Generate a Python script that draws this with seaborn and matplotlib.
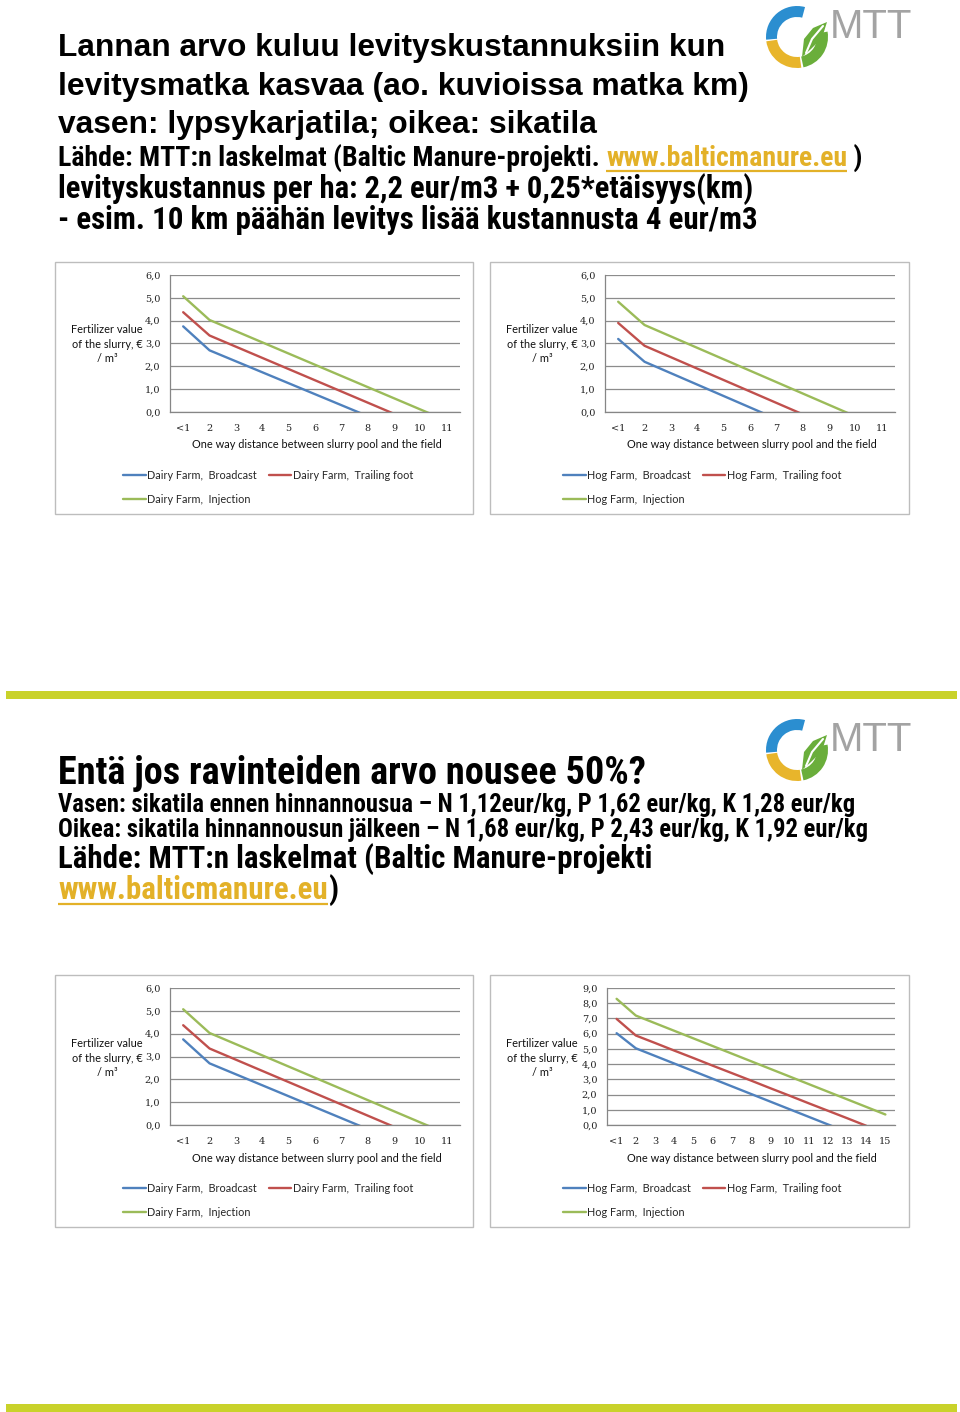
import matplotlib
matplotlib.use("Agg")
import matplotlib.pyplot as plt
from matplotlib import font_manager
from matplotlib.patches import Rectangle, Wedge, Polygon
import pandas as pd
import seaborn as sns

W, H = 960, 1412

# chart data (value of slurry, EUR/m3 by km)
dairy_km = ["<1", "2", "3", "4", "5", "6", "7", "8", "9", "10", "11"]
dairy_broadcast = [3.75, 2.70, 2.22, 1.74, 1.26, 0.78, 0.30, -0.18]
dairy_trailing = [4.37, 3.35, 2.86, 2.37, 1.88, 1.39, 0.90, 0.41, -0.08]
dairy_injection = [5.07, 4.03, 3.54, 3.05, 2.56, 2.07, 1.58, 1.09, 0.60, 0.11, -0.38]

hog_km = ["<1", "2", "3", "4", "5", "6", "7", "8", "9", "10", "11"]
hog_broadcast = [3.20, 2.20, 1.70, 1.20, 0.70, 0.20, -0.30]
hog_trailing = [3.90, 2.90, 2.40, 1.90, 1.40, 0.90, 0.40, -0.10]
hog_injection = [4.83, 3.81, 3.31, 2.81, 2.31, 1.81, 1.31, 0.81, 0.31, -0.19]

hog_high_km = ["<1", "2", "3", "4", "5", "6", "7", "8", "9", "10", "11", "12", "13", "14", "15"]
hog_high_broadcast = [6.03, 5.04, 4.54, 4.04, 3.54, 3.04, 2.54, 2.04, 1.54, 1.04, 0.54, 0.04, -0.46]
hog_high_trailing = [6.97, 5.88, 5.39, 4.89, 4.40, 3.90, 3.41, 2.92, 2.42, 1.93, 1.43, 0.94, 0.45, -0.05]
hog_high_injection = [8.29, 7.19, 6.69, 6.19, 5.69, 5.19, 4.69, 4.19, 3.69, 3.19, 2.69, 2.19, 1.69, 1.19, 0.69]

dairy_names = ["Dairy Farm,  Broadcast", "Dairy Farm,  Trailing foot", "Dairy Farm,  Injection"]
hog_names = ["Hog Farm,  Broadcast", "Hog Farm,  Trailing foot", "Hog Farm,  Injection"]

COLORS = ["#4F81BD", "#C0504D", "#9BBB59"]
LINK = "#E3B128"
BAR = "#C9D22A"

sns.set_style("white")
plt.rcParams["font.family"] = ["Liberation Sans", "DejaVu Sans"]

fonts = font_manager.fontManager.ttflist
installed = {f.name for f in fonts}
LABEL_FONT = "Lato" if "Lato" in installed else "DejaVu Sans"
TICK_FONT = "DejaVu Serif"

# a narrow bold sans for the smaller slide lines, if one is around
NARROW = ("Liberation Sans", "normal")
if "Liberation Sans Narrow" in installed:
    NARROW = ("Liberation Sans Narrow", "normal")
else:
    for fam in ["Roboto Condensed", "Open Sans Condensed", "Noto Sans", "DejaVu Sans", "Roboto", "Open Sans"]:
        hit = [f for f in fonts if f.name == fam and f.stretch in ("condensed", "semi-condensed")
               and f.weight in (600, 700, "bold", "semibold")]
        if hit:
            NARROW = (fam, hit[0].stretch)
            break

fig = plt.figure(figsize=(W / 100, H / 100), dpi=100)
bg = fig.add_axes([0, 0, 1, 1])
bg.set_xlim(0, W)
bg.set_ylim(H, 0)
bg.axis("off")
renderer = fig.canvas.get_renderer()


def width_of(s, fs, family, weight, stretch="normal"):
    # measure with a guard char so trailing spaces count
    t = bg.text(0, 0, s + "x", fontsize=fs, family=family, weight=weight, stretch=stretch)
    g = bg.text(0, 0, "x", fontsize=fs, family=family, weight=weight, stretch=stretch)
    w = t.get_window_extent(renderer).width - g.get_window_extent(renderer).width
    t.remove()
    g.remove()
    return w


def text_line(x, y, runs, right, font, weight="bold"):
    family, stretch = font
    full = "".join(r[0] for r in runs)
    fs = 20 * (right - x) / width_of(full, 20, family, weight, stretch)
    cx = x
    for s, color, underline in runs:
        t = bg.text(cx, y, s, fontsize=fs, family=family, weight=weight, stretch=stretch,
                    color=color, va="center", ha="left")
        w = width_of(s, fs, family, weight, stretch)
        if underline:
            bb = t.get_window_extent(renderer)
            uy = H - bb.y0 - 1
            bg.plot([cx, cx + w], [uy, uy], color=color, lw=1.6, solid_capstyle="butt")
        cx += w


def logo(cx, cy):
    bg.add_patch(Wedge((cx, cy), 31, 175, 285, width=11, color="#2B8ED0", lw=0))
    bg.add_patch(Wedge((cx, cy), 31, 82, 172, width=11, color="#E8B52B", lw=0))
    bg.add_patch(Wedge((cx, cy), 31, -10, 78, width=11, color="#6AAE3B", lw=0))
    bg.add_patch(Polygon([(cx + 5, cy + 20), (cx + 7, cy + 2), (cx + 16, cy - 9),
                          (cx + 30, cy - 15), (cx + 25, cy + 1), (cx + 14, cy + 12)],
                         closed=True, color="#6AAE3B", lw=0))
    bg.plot([cx + 9, cx + 15, cx + 26], [cy + 16, cy + 2, cy - 11], color="white", lw=1.5)
    bg.text(cx + 33, cy + 1, "MTT", fontsize=29, color="#A3A3A3", family="Liberation Sans",
            va="baseline", ha="left")


def chart(frame, area, km, series, names, ymax, ylab_xy, xlab_xy, leg_xy):
    bg.add_patch(Rectangle((frame[0], frame[1]), frame[2] - frame[0], frame[3] - frame[1],
                           fill=False, ec="#BDBDBD", lw=1))
    x0, y0, x1, y1 = area
    ax = fig.add_axes([x0 / W, 1 - y1 / H, (x1 - x0) / W, (y1 - y0) / H])
    for vals, name, col in zip(series, names, COLORS):
        df = pd.DataFrame({"pos": range(len(vals)), "value": vals})
        sns.lineplot(data=df, x="pos", y="value", ax=ax, color=col, lw=1.7,
                     label=name, legend=False)
    ax.set_xlim(-0.5, len(km) - 0.5)
    ax.set_ylim(0, ymax)
    ax.set_xlabel("")
    ax.set_ylabel("")
    ax.set_xticks(range(len(km)))
    ax.set_xticklabels(km, family=TICK_FONT, fontsize=7, color="#222222")
    ax.set_xticks([i - 0.5 for i in range(len(km) + 1)], minor=True)
    ax.set_yticks(range(0, ymax + 1))
    ax.set_yticklabels([f"{v},0" for v in range(0, ymax + 1)], family=TICK_FONT,
                       fontsize=7, color="#222222")
    ax.tick_params(axis="x", which="major", length=0, pad=9)
    ax.tick_params(axis="x", which="minor", length=4, width=0.8, color="#868686", direction="out")
    ax.tick_params(axis="y", length=4, width=0.8, color="#868686", direction="out", pad=3)
    ax.yaxis.grid(True, color="#8C8C8C", lw=0.9)
    ax.set_axisbelow(True)
    for side in ["top", "right"]:
        ax.spines[side].set_visible(False)
    for side in ["left", "bottom"]:
        ax.spines[side].set_color("#868686")
        ax.spines[side].set_linewidth(0.9)
    ax.set_facecolor("none")

    bg.text(ylab_xy[0], ylab_xy[1], "Fertilizer value\nof the slurry, €\n/ m³", family=LABEL_FONT,
            fontsize=7.9, ha="center", va="center", linespacing=1.35, color="#111111")
    bg.text(xlab_xy[0], xlab_xy[1], "One way distance between slurry pool and the field",
            family=LABEL_FONT, fontsize=7.9, ha="center", va="center", color="#111111")
    h = ax.get_lines()[:3]
    fig.legend([h[0], h[2], h[1]], [names[0], names[2], names[1]], ncol=2,
               loc="upper left", bbox_to_anchor=(leg_xy[0] / W, 1 - leg_xy[1] / H),
               frameon=False, prop={"family": LABEL_FONT, "size": 7.8},
               handlelength=2.1, handletextpad=0.15, columnspacing=1.05,
               labelspacing=1.2, borderpad=0, borderaxespad=0)
    return ax


BOLD = ("Liberation Sans", "normal")

# slide 1 text
logo(797, 37)
text_line(58, 48, [("Lannan arvo kuluu levityskustannuksiin kun", "black", False)], 723, BOLD)
text_line(58, 87, [("levitysmatka kasvaa (ao. kuvioissa matka km)", "black", False)], 746, BOLD)
text_line(58, 125, [("vasen: lypsykarjatila; oikea: sikatila", "black", False)], 594, BOLD)
text_line(58, 158, [("Lähde: MTT:n laskelmat (Baltic Manure-projekti. ", "black", False),
                    ("www.balticmanure.eu", LINK, True), (" )", "black", False)], 863, NARROW)
text_line(58, 189, [("levityskustannus per ha: 2,2 eur/m3 + 0,25*etäisyys(km)", "black", False)], 753, NARROW)
text_line(58, 220, [("- esim. 10 km päähän levitys lisää kustannusta 4 eur/m3", "black", False)], 755, NARROW)

chart((55, 262, 473, 514), (170, 275, 460, 412), dairy_km,
      [dairy_broadcast, dairy_trailing, dairy_injection], dairy_names, 6,
      (107, 344), (317, 445), (123, 470))
chart((490, 262, 909, 514), (605, 275, 895, 412), hog_km,
      [hog_broadcast, hog_trailing, hog_injection], hog_names, 6,
      (542, 344), (752, 445), (563, 470))

# divider bars
bg.add_patch(Rectangle((6, 691), 951, 8, color=BAR, lw=0))
bg.add_patch(Rectangle((6, 1404), 951, 8, color=BAR, lw=0))

# slide 2 text
logo(797, 750)
text_line(58, 773, [("Entä jos ravinteiden arvo nousee 50%?", "black", False)], 644, NARROW)
text_line(58, 805, [("Vasen: sikatila ennen hinnannousua – N 1,12eur/kg, P 1,62 eur/kg, K 1,28 eur/kg", "black", False)], 857, NARROW)
text_line(58, 830, [("Oikea: sikatila hinnannousun jälkeen – N 1,68 eur/kg, P 2,43 eur/kg, K 1,92 eur/kg", "black", False)], 869, NARROW)
text_line(58, 859, [("Lähde: MTT:n laskelmat (Baltic Manure-projekti", "black", False)], 650, NARROW)
text_line(58, 890, [("www.balticmanure.eu", LINK, True), (")", "black", False)], 337, NARROW)

chart((55, 975, 473, 1227), (170, 988, 460, 1125), dairy_km,
      [dairy_broadcast, dairy_trailing, dairy_injection], dairy_names, 6,
      (107, 1058), (317, 1158), (123, 1183))
chart((490, 975, 909, 1227), (607, 988, 895, 1125), hog_high_km,
      [hog_high_broadcast, hog_high_trailing, hog_high_injection], hog_names, 9,
      (542, 1058), (752, 1158), (563, 1183))

fig.savefig("out.png", dpi=100)
